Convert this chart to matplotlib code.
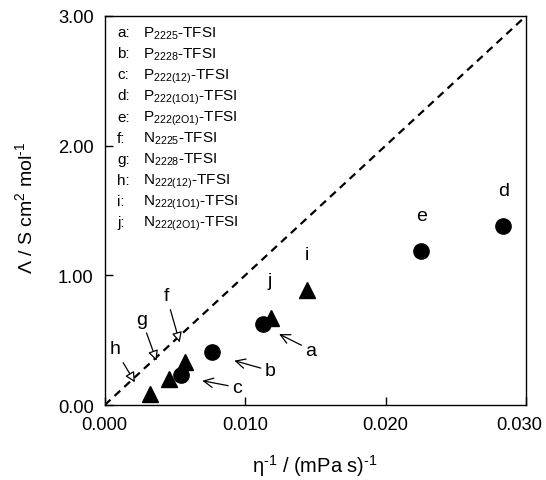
import matplotlib
matplotlib.use("Agg")
import matplotlib.pyplot as plt
from matplotlib.transforms import ScaledTranslation

plt.rcParams['font.family'] = ['Liberation Sans', 'DejaVu Sans']
plt.rcParams['mathtext.fontset'] = 'custom'
plt.rcParams['mathtext.rm'] = 'Liberation Sans'
plt.rcParams['mathtext.it'] = 'Liberation Sans:italic'
plt.rcParams['mathtext.bf'] = 'Liberation Sans:bold'

# P-series (circles): a, b, c, d, e
p_labels = ['a', 'b', 'c', 'd', 'e']
p_x = [0.01124, 0.00765, 0.00546, 0.02837, 0.02254]
p_y = [0.625, 0.411, 0.231, 1.382, 1.190]

# N-series (triangles): f, g, h, i, j
n_labels = ['f', 'g', 'h', 'i', 'j']
n_x = [0.00569, 0.00458, 0.00323, 0.01443, 0.01184]
n_y = [0.329, 0.200, 0.082, 0.888, 0.671]

legend_letters = ['a', 'b', 'c', 'd', 'e', 'f', 'g', 'h', 'i', 'j']
legend_names = [r'P$_{\mathrm{2225}}$-TFSI', r'P$_{\mathrm{2228}}$-TFSI',
                r'P$_{\mathrm{222(12)}}$-TFSI', r'P$_{\mathrm{222(1O1)}}$-TFSI',
                r'P$_{\mathrm{222(2O1)}}$-TFSI', r'N$_{\mathrm{2225}}$-TFSI',
                r'N$_{\mathrm{2228}}$-TFSI', r'N$_{\mathrm{222(12)}}$-TFSI',
                r'N$_{\mathrm{222(1O1)}}$-TFSI', r'N$_{\mathrm{222(2O1)}}$-TFSI']

x_ticks = [0.0, 0.010, 0.020, 0.030]
x_ticklabels = ['0.000', '0.010', '0.020', '0.030']
y_ticks = [0.0, 1.0, 2.0, 3.0]
y_ticklabels = ['0.00', '1.00', '2.00', '3.00']

# ideal (KCl) line
ideal_x = [0.0, 0.030]
ideal_y = [0.0, 3.0]

fig = plt.figure(figsize=(5.46, 4.81), dpi=100)
ax = fig.add_axes([0.1918, 0.1559, 0.7716, 0.8088])

ax.plot(ideal_x, ideal_y, color='black', lw=1.6, dashes=(3.5, 2.5))
ax.plot(p_x, p_y, 'o', color='black', ms=11, mec='black')
ax.plot(n_x, n_y, '^', color='black', ms=11, mec='black')

fs = 11
lfs = 14
# labels with open-V arrows
arrow_v = {'a': ((0.01469, 0.424), (0.01242, 0.547)),
           'b': ((0.01179, 0.264), (0.00923, 0.342)),
           'c': ((0.00943, 0.136), (0.00695, 0.187))}
for k, (txt, head) in arrow_v.items():
    ax.annotate(k, xy=head, xytext=txt, fontsize=lfs, ha='center', va='center',
                arrowprops=dict(arrowstyle='->', color='black', lw=0.9,
                                shrinkA=1, shrinkB=0, mutation_scale=17))
# labels with hollow triangle arrows
arrow_t = {'f': ((0.00439, 0.843), (0.00534, 0.483)),
           'g': ((0.00262, 0.663), (0.00369, 0.342)),
           'h': ((0.00073, 0.432), (0.00215, 0.175))}
for k, (txt, head) in arrow_t.items():
    ax.annotate(k, xy=head, xytext=txt, fontsize=lfs, ha='center', va='center',
                arrowprops=dict(arrowstyle='-|>', color='black', fc='white', lw=0.9,
                                shrinkA=2, shrinkB=0, mutation_scale=15))
# plain labels
plain = {'d': (0.02837, 1.652), 'e': (0.02254, 1.46), 'i': (0.01443, 1.164), 'j': (0.01172, 0.958)}
for k, pos in plain.items():
    ax.text(pos[0], pos[1], k, fontsize=lfs, ha='center', va='center')

# legend text block
for i, (l, n) in enumerate(zip(legend_letters, legend_names)):
    yy = 0.948 - i * 0.0542
    ax.text(0.029, yy, l + ':', transform=ax.transAxes, fontsize=fs, va='baseline', ha='left')
    ax.text(0.091, yy, n, transform=ax.transAxes, fontsize=fs, va='baseline', ha='left')

ax.set_xlim(0, 0.030)
ax.set_ylim(0, 3.0)
ax.set_xticks(x_ticks)
ax.set_xticklabels(x_ticklabels)
ax.set_yticks(y_ticks)
ax.set_yticklabels(y_ticklabels)
ax.tick_params(direction='in', length=6, width=1, labelsize=13.2, pad=8,
               top=False, right=False)
for s in ax.spines.values():
    s.set_linewidth(1.0)

# shift the last x tick label left so it fits inside the figure
last = ax.xaxis.get_major_ticks()[-1].label1
last.set_transform(last.get_transform() + ScaledTranslation(-7 / 100, 0, fig.dpi_scale_trans))

hy = '\u2010'
ax.set_xlabel('η$^{\\mathrm{' + hy + '1}}$ / (mPa s)$^{\\mathrm{' + hy + '1}}$', fontsize=14.5)
ax.set_ylabel('Λ / S cm$^{\\mathrm{2}}$ mol$^{\\mathrm{' + hy + '1}}$', fontsize=14)
ax.xaxis.set_label_coords(0.5, -0.122)
ax.yaxis.set_label_coords(-0.163, 0.51)

fig.savefig('out.png', dpi=100)
